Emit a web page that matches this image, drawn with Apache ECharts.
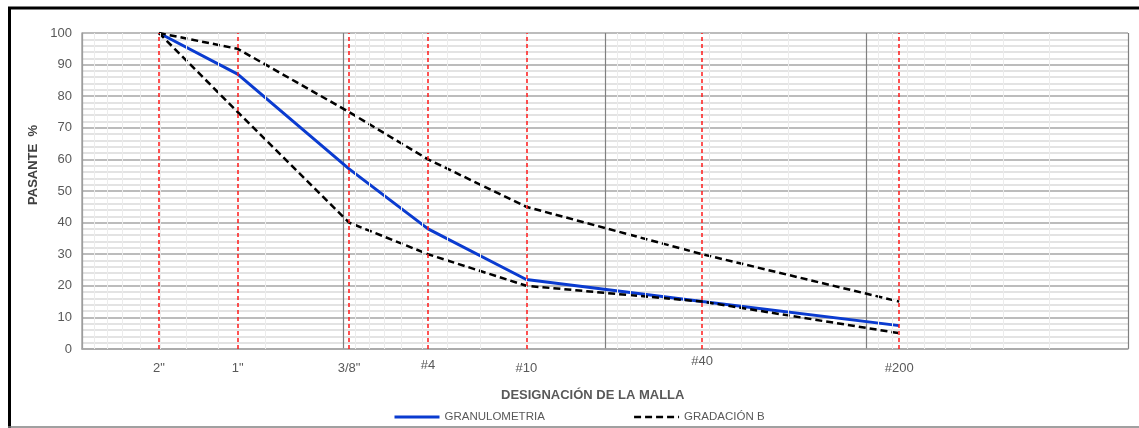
<!DOCTYPE html>
<html>
<head>
<meta charset="utf-8">
<script src="https://cdn.jsdelivr.net/npm/echarts@6/dist/echarts.min.js"></script>
<style>
  html, body { margin: 0; padding: 0; background: #fff; }
  #chart { width: 1139px; height: 428px; }
</style>
</head>
<body>
<div id="chart"></div>
<script>
// sieve designations and openings (mm)
var sieveNames = ['2"', '1"', '3/8"', '#4', '#10', '#40', '#200'];
var sieveOpenings = [50.8, 25.4, 9.525, 4.75, 2.0, 0.425, 0.075];

// % passing
var granulometria = [100, 87, 57, 38, 22, 15, 7.4];
var gradacionSup = [100, 95, 75, 60, 45, 30, 15];
var gradacionInf = [100, 75, 40, 30, 20, 15, 5];

var yTicks = [0, 10, 20, 30, 40, 50, 60, 70, 80, 90, 100];

function pairs(vals) {
    return sieveOpenings.map(function (d, i) { return [d, vals[i]]; });
}

// minor log gridlines 2..9 per decade
var minorLines = [];
[0.01, 0.1, 1, 10].forEach(function (dec) {
    for (var k = 2; k <= 9; k++) minorLines.push({ xAxis: +(dec * k).toPrecision(3) });
});

// small drop of some sieve labels (as in the original sheet)
var labelDist = { '#4': 10, '#40': 6 };

var grey = '#595959';
var font = 'Liberation Sans, Arial, sans-serif';
var myChart = echarts.init(document.getElementById('chart'));

var option = {
    animation: false,
    grid: { left: 82, right: 11, top: 33, bottom: 79 },
    xAxis: {
        type: 'log',
        logBase: 10,
        min: 0.01,
        max: 100,
        inverse: true,
        axisLine: { show: true, lineStyle: { color: '#a6a6a6', width: 1.5 } },
        axisTick: { show: false },
        axisLabel: { show: false },
        splitLine: { show: true, lineStyle: { color: '#808080', width: 1.2 } }
    },
    yAxis: {
        type: 'value',
        min: 0,
        max: 100,
        interval: 10,
        axisLine: { show: true, lineStyle: { color: '#a6a6a6', width: 1.5 } },
        axisTick: { show: false },
        axisLabel: {
            color: grey, fontSize: 13, margin: 10, fontFamily: font,
            formatter: function (v) { return yTicks.indexOf(v) >= 0 ? String(v) : ''; }
        },
        splitLine: { show: true, lineStyle: { color: '#a6a6a6', width: 1.5 } },
        minorTick: { show: false, splitNumber: 5 },
        minorSplitLine: { show: true, lineStyle: { color: '#dadada', width: 1.5 } }
    },
    legend: {
        left: 388,
        top: 406,
        itemWidth: 45,
        itemHeight: 10,
        itemGap: 88,
        itemStyle: { opacity: 0 },
        lineStyle: { width: 'inherit' },
        textStyle: { color: grey, fontSize: 11.5, fontFamily: font },
        data: ['GRANULOMETRIA', 'GRADACIÓN B']
    },
    graphic: [
        { type: 'line', silent: true, shape: { x1: 8, y1: 8, x2: 1139, y2: 8 }, style: { stroke: '#000', lineWidth: 3 } },
        { type: 'line', silent: true, shape: { x1: 9.5, y1: 7, x2: 9.5, y2: 428 }, style: { stroke: '#000', lineWidth: 3 } },
        { type: 'line', silent: true, shape: { x1: 8, y1: 427, x2: 1139, y2: 427 }, style: { stroke: '#808080', lineWidth: 1.5 } },
        {
            type: 'text', left: 501, top: 389,
            style: { text: 'DESIGNACIÓN DE LA MALLA', fill: grey, font: 'bold 13px "Liberation Sans", Arial, sans-serif' }
        },
        {
            type: 'text', x: 33, y: 165, rotation: Math.PI / 2,
            style: {
                text: 'PASANTE  %', fill: '#404040', align: 'center', verticalAlign: 'middle',
                font: 'bold 13px "Liberation Sans", Arial, sans-serif'
            }
        }
    ],
    series: [
        {
            name: 'minor',
            type: 'line',
            data: [],
            silent: true,
            z: 1,
            markLine: {
                silent: true,
                symbol: 'none',
                precision: 4,
                label: { show: false },
                lineStyle: { color: '#ececec', width: 1, type: 'solid' },
                data: minorLines
            }
        },
        {
            name: 'tamices',
            type: 'line',
            data: [],
            silent: true,
            z: 2,
            markLine: {
                silent: true,
                symbol: 'none',
                precision: 4,
                lineStyle: { color: '#ff1a1a', width: 1.5, type: [4, 3] },
                label: { show: true, position: 'start', color: grey, fontSize: 13, fontFamily: font },
                data: sieveOpenings.map(function (d, i) {
                    return {
                        xAxis: d,
                        label: { formatter: sieveNames[i], distance: labelDist[sieveNames[i]] || 13 }
                    };
                })
            }
        },
        {
            name: 'GRANULOMETRIA',
            type: 'line',
            data: pairs(granulometria),
            symbol: 'none',
            z: 3,
            lineStyle: { color: '#0a3bd0', width: 3 },
            itemStyle: { color: '#0a3bd0' }
        },
        {
            name: 'GRADACIÓN B',
            type: 'line',
            data: pairs(gradacionSup),
            symbol: 'none',
            z: 4,
            lineStyle: { color: '#000', width: 2.5, type: [7, 4] },
            itemStyle: { color: '#000' }
        },
        {
            name: 'GRADACIÓN B',
            type: 'line',
            data: pairs(gradacionInf),
            symbol: 'none',
            z: 4,
            lineStyle: { color: '#000', width: 2.5, type: [7, 4] },
            itemStyle: { color: '#000' }
        }
    ]
};
myChart.setOption(option);
</script>
</body>
</html>
